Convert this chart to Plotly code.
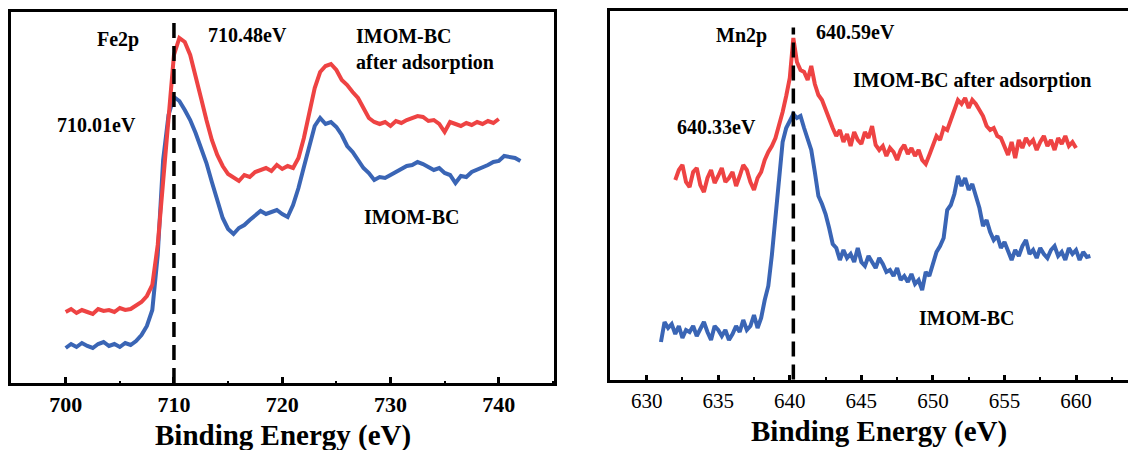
import numpy as np
import plotly.graph_objects as go

# ---------------- data (intensity in arbitrary units) ----------------
# Fe 2p, IMOM-BC after adsorption: 700 -> 740 eV, step 0.5
fe_energy_after = np.linspace(700, 740, 81)
fe_after = [
    72, 75, 71, 74, 72, 70, 75, 73, 74, 72,
    76, 74, 75, 78, 82, 88, 99, 139, 204, 274,
    329, 346, 342, 329, 309, 286, 264, 244, 229, 218,
    210, 206, 203, 209, 207, 212, 214, 216, 213, 219,
    215, 218, 216, 226, 246, 272, 296, 312, 318, 320,
    314, 304, 299, 292, 286, 276, 266, 262, 260, 262,
    258, 263, 261, 264, 266, 268, 267, 263, 264, 260,
    252, 262, 260, 258, 261, 259, 262, 260, 263, 261,
    265,
]
# Fe 2p, IMOM-BC: 700 -> 742 eV, step 0.5
fe_energy_before = np.linspace(700, 742, 85)
fe_before = [
    36, 40, 37, 41, 38, 36, 40, 42, 38, 40,
    37, 41, 39, 43, 49, 58, 74, 129, 224, 269,
    287, 283, 274, 264, 251, 236, 221, 202, 184, 166,
    155, 150, 156, 159, 164, 168, 173, 170, 172, 174,
    170, 167, 179, 196, 217, 239, 258, 266, 260, 262,
    257, 249, 238, 232, 224, 216, 211, 204, 207, 206,
    209, 212, 214, 218, 219, 222, 220, 217, 214, 216,
    211, 209, 201, 208, 207, 212, 214, 217, 219, 222,
    223, 228, 227, 226, 223,
]
# Mn 2p, IMOM-BC after adsorption: 632 -> 660 eV, step 0.25
mn_energy_after = np.linspace(632, 660, 113)
mn_after = [
    200, 210, 215, 198,
    193, 208, 212, 195,
    188, 202, 210, 197,
    204, 212, 198, 202,
    208, 194, 204, 215,
    210, 198, 190, 202,
    208, 220, 228, 234,
    242, 254, 268, 284,
    302, 342, 318, 310,
    308, 300, 314, 296,
    285, 280, 270, 262,
    252, 244, 250, 238,
    246, 234, 248, 240,
    236, 248, 242, 254,
    235, 230, 234, 224,
    232, 228, 220, 230,
    235, 226, 232, 224,
    230, 220, 216, 225,
    234, 244, 240, 252,
    250, 260, 268, 280,
    276, 282, 272, 280,
    276, 270, 264, 254,
    250, 252, 244, 242,
    234, 225, 238, 222,
    240, 232, 242, 236,
    240, 230, 238, 244,
    234, 240, 230, 242,
    236, 244, 234, 238,
    232,
]
# Mn 2p, IMOM-BC: 631 -> 661 eV, step 0.25
mn_energy_before = np.linspace(631, 661, 121)
mn_before = [
    38, 58, 52, 56,
    46, 54, 42, 50,
    48, 54, 44, 52,
    58, 48, 40, 54,
    50, 44, 50, 40,
    46, 54, 48, 60,
    50, 54, 65, 52,
    62, 80, 94, 125,
    165, 205, 238, 252,
    260, 266, 262, 264,
    252, 240, 230, 208,
    184, 176, 166, 152,
    136, 132, 120, 130,
    122, 126, 118, 132,
    118, 114, 124, 118,
    112, 122, 116, 108,
    110, 104, 112, 100,
    104, 98, 106, 96,
    100, 90, 108, 104,
    118, 128, 134, 142,
    170, 175, 186, 204,
    194, 202, 190, 196,
    184, 172, 154, 160,
    148, 140, 144, 132,
    138, 128, 120, 130,
    124, 134, 140, 126,
    130, 122, 132, 126,
    122, 130, 134, 124,
    128, 120, 132, 126,
    130, 120, 128, 123,
    124,
]
fe_ref_energy = 710.0
mn_ref_energy = 640.25

fe_ticks = [700, 710, 720, 730, 740]
mn_ticks = [630, 635, 640, 645, 650, 655, 660]

# ---------------- styling ----------------
RED = "#EE4343"
BLUE = "#3A65B5"
SERIF = "Liberation Serif, Times New Roman, serif"
W, H = 1128, 450
LW = 4

fig = go.Figure()
fig.add_trace(go.Scatter(x=fe_energy_before, y=fe_before, mode="lines",
                         line=dict(color=BLUE, width=LW), xaxis="x", yaxis="y",
                         name="IMOM-BC"))
fig.add_trace(go.Scatter(x=fe_energy_after, y=fe_after, mode="lines",
                         line=dict(color=RED, width=LW), xaxis="x", yaxis="y",
                         name="IMOM-BC after adsorption"))
fig.add_trace(go.Scatter(x=mn_energy_before, y=mn_before, mode="lines",
                         line=dict(color=BLUE, width=LW), xaxis="x2", yaxis="y2",
                         name="IMOM-BC"))
fig.add_trace(go.Scatter(x=mn_energy_after, y=mn_after, mode="lines",
                         line=dict(color=RED, width=LW), xaxis="x2", yaxis="y2",
                         name="IMOM-BC after adsorption"))

shapes = [
    dict(type="line", xref="x", yref="y domain", x0=fe_ref_energy, x1=fe_ref_energy,
         y0=0, y1=0.976, line=dict(color="black", width=3.5, dash="15px,8px")),
    dict(type="line", xref="x2", yref="y2 domain", x0=mn_ref_energy, x1=mn_ref_energy,
         y0=0, y1=0.955, line=dict(color="black", width=3.5, dash="15px,8px")),
]

base_axis = dict(showline=True, linecolor="black", linewidth=3, showgrid=False,
                 zeroline=False, automargin=False)

fig.update_layout(
    width=W, height=H,
    margin=dict(l=0, r=0, t=0, b=0),
    paper_bgcolor="white", plot_bgcolor="white",
    showlegend=False,
    shapes=shapes,
    xaxis=dict(base_axis, domain=[11 / W, 554 / W], range=[694.95, 745.1], anchor="y",
               mirror=True, ticks="inside", ticklen=6, tickwidth=2.5, tickcolor="black",
               tickvals=fe_ticks, ticklabelstandoff=0,
               minor=dict(ticks="inside", ticklen=2.5, tickwidth=2, dtick=5, tick0=700,
                          tickcolor="black"),
               tickfont=dict(family=SERIF, size=22, color="black", weight="bold")),
    yaxis=dict(base_axis, domain=[1 - 383 / H, 1 - 12 / H], range=[1, 372], anchor="x",
               mirror=True, ticks="", showticklabels=False),
    xaxis2=dict(base_axis, domain=[610 / W, 1.0], range=[627.44, 663.63], anchor="y2",
                mirror=True, ticks="inside", ticklen=5, tickwidth=2.5, tickcolor="black",
                tickvals=mn_ticks, ticklabelstandoff=0,
                minor=dict(ticks="inside", ticklen=2.5, tickwidth=2, dtick=2.5, tick0=630,
                           tickcolor="black"),
                tickfont=dict(family=SERIF, size=21, color="black")),
    yaxis2=dict(base_axis, domain=[1 - 379.5 / H, 1 - 11 / H], range=[0.5, 369], anchor="x2",
                mirror=False, ticks="", showticklabels=False),
)

ann_font = dict(family=SERIF, size=20, color="black", weight="bold")
title_font = dict(family=SERIF, size=29, color="black", weight="bold")
annotations = [
    dict(x=704.8, y=344, xref="x", yref="y", text="Fe2p"),
    dict(x=716.8, y=349, xref="x", yref="y", text="710.48eV"),
    dict(x=726.6, y=334, xref="x", yref="y", text="IMOM-BC<br>after adsorption",
         xanchor="left", align="left"),
    dict(x=702.85, y=259, xref="x", yref="y", text="710.01eV"),
    dict(x=732.0, y=167, xref="x", yref="y", text="IMOM-BC"),
    dict(x=636.6, y=345, xref="x2", yref="y2", text="Mn2p"),
    dict(x=644.6, y=348, xref="x2", yref="y2", text="640.59eV"),
    dict(x=652.75, y=300, xref="x2", yref="y2", text="IMOM-BC after adsorption"),
    dict(x=634.9, y=253, xref="x2", yref="y2", text="640.33eV"),
    dict(x=652.4, y=62, xref="x2", yref="y2", text="IMOM-BC"),
    dict(x=720.07, y=1 - 435 / H, xref="x", yref="paper", text="Binding Energy (eV)",
         font=title_font),
    dict(x=646.2, y=1 - 431 / H, xref="x2", yref="paper", text="Binding Energy (eV)",
         font=title_font),
]
for a in annotations:
    a.setdefault("font", ann_font)
    a.setdefault("showarrow", False)
    a.setdefault("xanchor", "center")
    a.setdefault("yanchor", "middle")
fig.update_layout(annotations=annotations)

fig.write_html("out.html")
